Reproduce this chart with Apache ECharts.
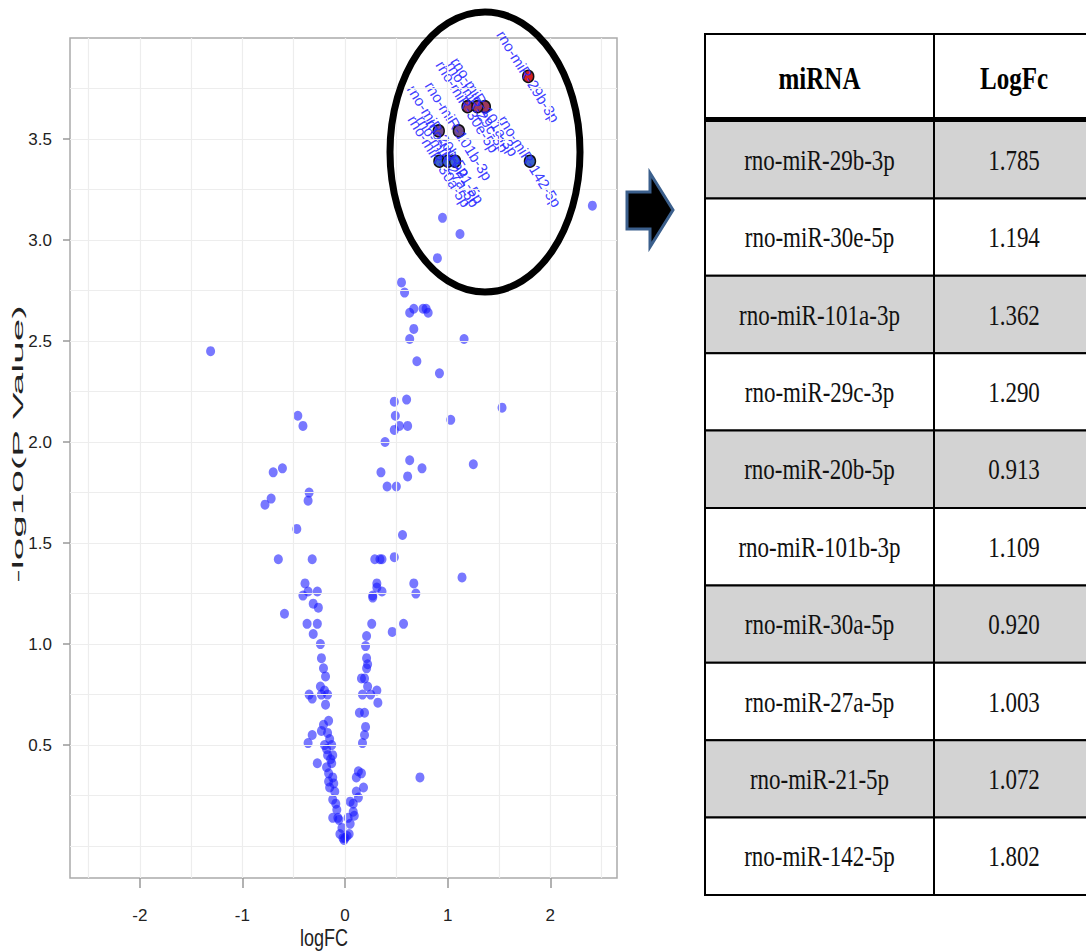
<!DOCTYPE html>
<html>
<head>
<meta charset="utf-8">
<title>Volcano plot</title>
<script src="https://cdn.jsdelivr.net/npm/echarts@6/dist/echarts.min.js"></script>
<style>
  html, body { margin: 0; padding: 0; background: #fff; }
  #chart { width: 1086px; height: 951px; }
</style>
</head>
<body>
<div id="chart"></div>
<script>
// all miRNAs (x = logFC, y = -log10 P)
var allLogFC = [
  0.95, 1.12, 0.90, 0.55, 0.58, 2.41,
  0.63, 0.67, 0.76, 0.79, 0.81, 0.67, 0.63, 1.16,
  -1.31, 0.70, 0.92, 0.48, 0.60, 0.49, -0.46, -0.41,
  0.53, 0.48, 0.61, 1.03, 0.39, 1.53, 1.25, 0.63,
  0.75, 0.35, 0.61, 0.41, 0.50, -0.70, -0.61, -0.72,
  -0.78, -0.35, -0.36, -0.47, 0.56, -0.65, -0.32, 0.29,
  0.34, 0.36, 0.48, 1.14, -0.39, -0.36, -0.41, -0.27,
  0.31, 0.31, 0.36, 0.27, 0.67, 0.69,
  -0.31, -0.26, -0.59, -0.37, -0.27, -0.31, -0.24, -0.23,
  -0.21, -0.19, -0.24, -0.20, -0.23, -0.17, -0.35, -0.32,
  -0.16, -0.21, -0.23, -0.17, -0.32, -0.36, -0.20, -0.13,
  -0.18, -0.17, -0.12, -0.27, -0.13, -0.18, -0.16, -0.12,
  -0.16, -0.15, -0.10, -0.12, -0.09, -0.12, -0.07, -0.05,
  -0.02, 0.02, -0.01, 0.04, -0.03, 0.03, 0.05,
  -0.19, -0.15, -0.14, -0.11, -0.08, -0.06, 0.00,
  0.05, 0.08, 0.11, 0.13, 0.18, 0.11, 0.16, 0.13,
  0.73, 0.17, 0.19, 0.20, 0.14, 0.19, 0.17, 0.25,
  0.32, 0.31, 0.22, 0.16, 0.19, 0.21, 0.22, 0.21,
  0.20, 0.21, 0.26, 0.46, 0.57, 0.27, 0.08, 0.09
];
var allNegLogP = [
  3.11, 3.03, 2.91, 2.79, 2.74, 3.17,
  2.64, 2.66, 2.66, 2.66, 2.64, 2.56, 2.51, 2.51,
  2.45, 2.40, 2.34, 2.20, 2.21, 2.13, 2.13, 2.08,
  2.08, 2.06, 2.08, 2.11, 2.00, 2.17, 1.89, 1.91,
  1.87, 1.85, 1.83, 1.78, 1.78, 1.85, 1.87, 1.72,
  1.69, 1.75, 1.71, 1.57, 1.54, 1.42, 1.42, 1.42,
  1.42, 1.42, 1.43, 1.33, 1.30, 1.26, 1.24, 1.26,
  1.30, 1.28, 1.26, 1.24, 1.30, 1.25,
  1.20, 1.18, 1.15, 1.10, 1.10, 1.05, 1.00, 0.93,
  0.88, 0.84, 0.79, 0.77, 0.75, 0.75, 0.75, 0.73,
  0.62, 0.60, 0.57, 0.56, 0.55, 0.51, 0.50, 0.50,
  0.48, 0.45, 0.45, 0.41, 0.41, 0.39, 0.36, 0.34,
  0.32, 0.29, 0.27, 0.23, 0.21, 0.14, 0.14, 0.06,
  0.04, 0.05, 0.03, 0.06, 0.09, 0.14, 0.11,
  0.70, 0.53, 0.43, 0.31, 0.18, 0.13, 0.04,
  0.22, 0.21, 0.27, 0.24, 0.29, 0.34, 0.36, 0.37,
  0.34, 0.51, 0.55, 0.59, 0.66, 0.66, 0.75, 0.75,
  0.71, 0.77, 0.79, 0.83, 0.83, 0.88, 0.90, 0.93,
  0.99, 1.04, 1.10, 1.06, 1.10, 1.23, 0.17, 0.15
];

// top 10 (circled + table)
var topNames = [
  "rno-miR-29b-3p", "rno-miR-30e-5p", "rno-miR-101a-3p", "rno-miR-29c-3p",
  "rno-miR-20b-5p", "rno-miR-101b-3p", "rno-miR-30a-5p", "rno-miR-27a-5p",
  "rno-miR-21-5p", "rno-miR-142-5p"
];
var topLogFC = [1.785, 1.194, 1.362, 1.290, 0.913, 1.109, 0.920, 1.003, 1.072, 1.802];
var topNegLogP = [3.81, 3.66, 3.66, 3.66, 3.54, 3.54, 3.39, 3.39, 3.39, 3.39];

var tableHeader = ["miRNA", "LogFc"];

var xTicks = [-2, -1, 0, 1, 2];
var yTicks = [0.5, 1.0, 1.5, 2.0, 2.5, 3.0, 3.5];
var xGridVals = [-2.5, -2, -1.5, -1, -0.5, 0, 0.5, 1, 1.5, 2, 2.5];
var yGridVals = [0, 0.25, 0.5, 0.75, 1, 1.25, 1.5, 1.75, 2, 2.25, 2.5, 2.75, 3, 3.25, 3.5, 3.75];

var chart = echarts.init(document.getElementById("chart"), null, { renderer: "svg" });

var sans = "'Liberation Sans', Arial, sans-serif";
var narrow = "'Liberation Sans Narrow', 'Liberation Sans', Arial, sans-serif";
var serif = "'Liberation Serif', 'Times New Roman', serif";

var pts = allLogFC.map(function (v, i) { return [v, allNegLogP[i]]; });
var topPts = topLogFC.map(function (v, i) { return [v, topNegLogP[i]]; });

var gridLines = [];
xGridVals.forEach(function (v) { gridLines.push({ xAxis: v }); });
yGridVals.forEach(function (v) { gridLines.push({ yAxis: v }); });

// table drawn with graphic elements
var tLeft = 705, tMid = 934, tRight = 1092, tTop = 34, tHead = 119, rowH = 77.4;
var graphics = [];
graphics.push({
  type: "rect", silent: true,
  shape: { x: tLeft, y: tTop, width: tRight - tLeft, height: tHead - tTop },
  style: { fill: "#fff", stroke: "#000", lineWidth: 2 }
});
graphics.push({
  type: "line", silent: true,
  shape: { x1: tMid, y1: tTop, x2: tMid, y2: tHead },
  style: { stroke: "#000", lineWidth: 2 }
});
graphics.push({
  type: "text", silent: true, x: (tLeft + tMid) / 2, y: (tTop + tHead) / 2 + 2, scaleY: 1.25,
  style: { text: tableHeader[0], font: "bold 25px " + serif, fill: "#000", align: "center", verticalAlign: "middle" }
});
graphics.push({
  type: "text", silent: true, x: (tMid + 1086) / 2 + 4, y: (tTop + tHead) / 2 + 2, scaleY: 1.25,
  style: { text: tableHeader[1], font: "bold 25px " + serif, fill: "#000", align: "center", verticalAlign: "middle" }
});
topNames.forEach(function (name, i) {
  var y0 = tHead + 2 + i * rowH;
  var fill = i % 2 === 0 ? "#d3d3d3" : "#fff";
  graphics.push({
    type: "rect", silent: true,
    shape: { x: tLeft, y: y0, width: tMid - tLeft, height: rowH },
    style: { fill: fill, stroke: "#000", lineWidth: 2 }
  });
  graphics.push({
    type: "rect", silent: true,
    shape: { x: tMid, y: y0, width: tRight - tMid, height: rowH },
    style: { fill: fill, stroke: "#000", lineWidth: 2 }
  });
  graphics.push({
    type: "text", silent: true, x: (tLeft + tMid) / 2, y: y0 + rowH / 2, scaleY: 1.3,
    style: { text: name, font: "23px " + serif, fill: "#111", align: "center", verticalAlign: "middle" }
  });
  graphics.push({
    type: "text", silent: true, x: (tMid + 1086) / 2 + 4, y: y0 + rowH / 2, scaleY: 1.3,
    style: { text: topLogFC[i].toFixed(3), font: "23px " + serif, fill: "#111", align: "center", verticalAlign: "middle" }
  });
});
// thick line under header
graphics.push({
  type: "line", silent: true,
  shape: { x1: tLeft, y1: tHead, x2: tRight, y2: tHead },
  style: { stroke: "#000", lineWidth: 4 }
});
// arrow
graphics.push({
  type: "polygon", silent: true,
  shape: { points: [[627, 192], [650, 192], [650, 173], [673, 210], [650, 247], [650, 229], [627, 229]] },
  style: { fill: "#000", stroke: "#3b5f8c", lineWidth: 3 }
});
// circle around the top hits
graphics.push({
  type: "ellipse", silent: true, z: 100,
  shape: { cx: 485, cy: 152, rx: 95, ry: 140 },
  style: { fill: "none", stroke: "#000", lineWidth: 7 }
});
// axis titles
graphics.push({
  type: "text", silent: true, x: 18, y: 444, rotation: Math.PI / 2, scaleX: 2.7,
  style: { text: "-log10(P Value)", font: "15px " + sans, fill: "#222", align: "center", verticalAlign: "middle" }
});
graphics.push({
  type: "text", silent: true, x: 324, y: 938, scaleY: 1.35,
  style: { text: "logFC", font: "18px " + sans, fill: "#222", align: "center", verticalAlign: "middle" }
});

var option = {
  backgroundColor: "#fff",
  animation: false,
  grid: {
    left: 70, top: 38, right: 469, bottom: 73,
    show: true, borderColor: "#aaa", borderWidth: 1.5, backgroundColor: "#fff"
  },
  xAxis: {
    type: "value", min: -2.68, max: 2.65,
    axisLine: { show: false, onZero: false },
    splitLine: { show: false },
    axisTick: { show: true, customValues: xTicks, length: 10, lineStyle: { color: "#999", width: 1.5 } },
    axisLabel: {
      customValues: xTicks, margin: 29, fontSize: 17, color: "#222", fontFamily: narrow,
      formatter: function (v) { return String(v); }
    }
  },
  yAxis: {
    type: "value", min: -0.158, max: 4.0,
    axisLine: { show: false, onZero: false },
    splitLine: { show: false },
    axisTick: { show: true, customValues: yTicks, length: 7, lineStyle: { color: "#999", width: 1.5 } },
    axisLabel: {
      customValues: yTicks, margin: 18, fontSize: 17, color: "#222", fontFamily: narrow,
      formatter: function (v) { return v.toFixed(1); }
    }
  },
  visualMap: {
    show: false, type: "continuous", seriesIndex: 2, dimension: 1,
    min: 3.39, max: 3.81,
    inRange: { color: ["#3a62c9", "#d41f1f"] }
  },
  series: [
    {
      name: "grid", type: "scatter", data: [], z: 1, silent: true,
      markLine: {
        silent: true, symbol: "none", label: { show: false },
        lineStyle: { color: "#ededed", width: 1.2, type: "solid" },
        data: gridLines
      }
    },
    {
      name: "miRNA", type: "scatter", z: 2,
      data: pts,
      symbol: "circle", symbolSize: [9, 10],
      itemStyle: { color: "rgba(20,20,255,0.72)" }
    },
    {
      name: "top", type: "scatter", z: 3,
      data: topPts,
      symbol: "circle", symbolSize: [11, 12],
      itemStyle: { borderColor: "#111", borderWidth: 1.5, opacity: 1 },
      label: {
        show: true, position: "inside", rotate: -58,
        formatter: function (p) { return topNames[p.dataIndex]; },
        color: "rgba(40,40,255,0.9)", fontSize: 15, fontFamily: sans
      }
    }
  ],
  graphic: graphics
};
chart.setOption(option);
</script>
</body>
</html>
